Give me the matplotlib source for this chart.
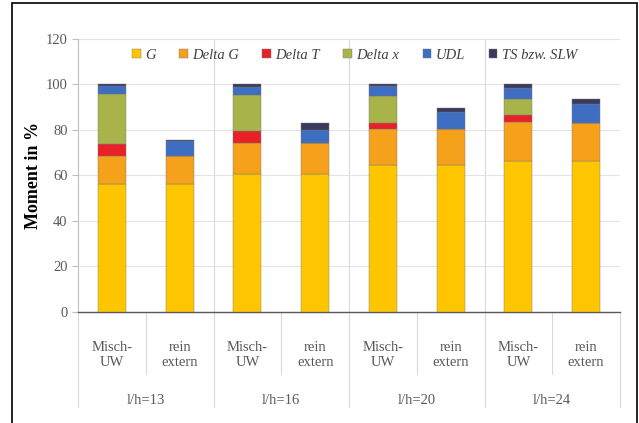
import matplotlib
matplotlib.use("Agg")
import matplotlib.pyplot as plt
from matplotlib.patches import Rectangle
from matplotlib.transforms import blended_transform_factory
import numpy as np

plt.rcParams['font.family'] = ['Liberation Serif', 'DejaVu Serif']

# Daten
kategorien = ["Misch-\nUW", "rein\nextern"] * 4
gruppen = ["l/h=13", "l/h=16", "l/h=20", "l/h=24"]
G = [56, 56, 60.7, 60.7, 64.5, 64.5, 66.3, 66.3]
delta_G = [12.5, 12.5, 13.7, 13.7, 16.0, 15.8, 17.2, 16.9]
delta_T = [5.5, 0, 4.9, 0, 2.7, 0, 3.1, 0]
delta_x = [21.7, 0, 15.9, 0, 11.5, 0, 6.9, 0]
UDL = [3.7, 6.5, 3.6, 5.6, 4.4, 7.6, 4.9, 8.1]
TS = [0.6, 0.4, 1.2, 2.9, 0.9, 1.9, 1.6, 2.2]

serien = [G, delta_G, delta_T, delta_x, UDL, TS]
namen = ["G", "Delta G", "Delta T", "Delta x", "UDL", "TS bzw. SLW"]
farben = ["#FFC600", "#F5A11C", "#E82027", "#A8B44A", "#3D6EC1", "#3A3A5C"]

fig = plt.figure(figsize=(6.39, 4.23), dpi=100)
ax = fig.add_axes([78/639, (423-311.7)/423, 542/639, 272.7/423])

x = np.arange(len(kategorien))
unten = np.zeros(len(kategorien))
for werte, name, farbe in zip(serien, namen, farben):
    ax.bar(x, werte, 0.41, bottom=unten, color=farbe, label=name,
           edgecolor='#777777', linewidth=0.3, zorder=3)
    unten += np.array(werte)

ax.set_xlim(-0.5, 7.5)
ax.set_ylim(0, 120)
ax.set_yticks(range(0, 121, 20))
ax.tick_params(axis='y', labelsize=10.5, labelcolor='#595959', color='#bfbfbf', length=4)
ax.grid(axis='y', color='#e3e3e3', linewidth=0.8, zorder=0)
for b in [1.5, 3.5, 5.5]:
    ax.axvline(b, color='#d9d9d9', linewidth=0.8, zorder=1)

for s in ['top', 'right']:
    ax.spines[s].set_visible(False)
ax.spines['left'].set_color('#bfbfbf')
ax.spines['bottom'].set_color('#595959')
ax.spines['bottom'].set_linewidth(1.0)

ax.set_ylabel("Moment in %", fontsize=13, fontweight='bold', labelpad=3)

# mehrstufige Kategorienachse
ax.set_xticks([])
trans = blended_transform_factory(ax.transData, ax.transAxes)
for i, k in enumerate(kategorien):
    ax.text(i, -0.16, k, transform=trans, ha='center', va='center',
            fontsize=10.5, color='#595959', linespacing=1.2)
for i in range(len(kategorien) + 1):
    pos = i - 0.5
    tief = -0.35 if i % 2 == 0 else -0.23
    ax.plot([pos, pos], [0, tief], transform=trans, color='#d9d9d9',
            linewidth=0.8, clip_on=False)
for j, g in enumerate(gruppen):
    ax.text(2*j + 0.5, -0.325, g, transform=trans, ha='center', va='center',
            fontsize=10.5, color='#595959')

leg = ax.legend(loc='center', bbox_to_anchor=(0.51, 0.941), ncol=6, frameon=False,
                handlelength=0.6, handleheight=0.6, handletextpad=0.3, columnspacing=1.6,
                prop={'style': 'italic', 'size': 10.5})
for t in leg.get_texts():
    t.set_color('#404040')

# äußerer Rahmen
fig.add_artist(Rectangle((12/639, -0.1), 625/639, 1.1 - 3/423, transform=fig.transFigure,
                         fill=False, edgecolor='black', linewidth=1.2, clip_on=False))

fig.savefig("out.png", dpi=100)
